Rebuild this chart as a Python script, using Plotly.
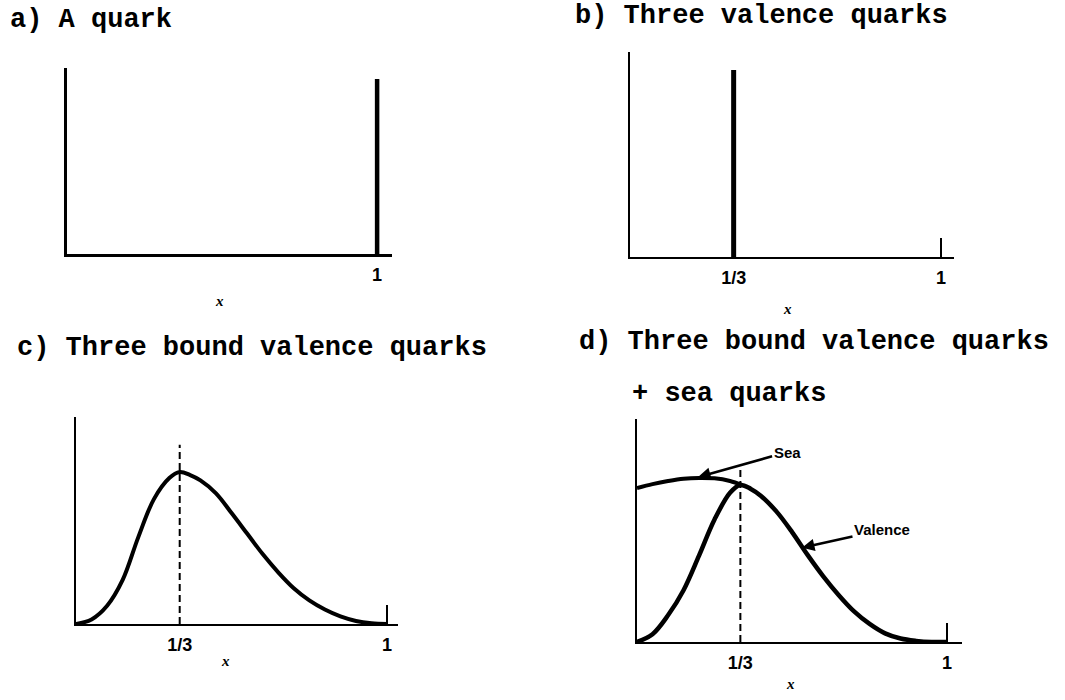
import plotly.graph_objects as go

# ---------------------------------------------------------------- data
# a) one free quark carries all the momentum: a spike at x = 1
quark_x = [1.0]
quark_h = [1.0]

# b) three free valence quarks: a spike at x = 1/3
free_valence_x = [1 / 3]
free_valence_h = [1.0]

# c) three bound valence quarks: a smeared peak around x = 1/3
bound_x = [0.0, 0.05, 0.10, 0.15, 0.20, 0.25, 0.30, 0.333, 0.367, 0.40, 0.45,
           0.50, 0.55, 0.60, 0.65, 0.70, 0.75, 0.80, 0.85, 0.90, 0.95, 1.0]
bound_h = [0.0, 0.03, 0.12, 0.29, 0.57, 0.82, 0.96, 1.0, 0.98, 0.945, 0.86,
           0.73, 0.595, 0.46, 0.34, 0.235, 0.155, 0.095, 0.05, 0.02, 0.005, 0.0]
bound_guide_top = 1.18

# d) bound valence quarks plus the sea
valence_x = [0.0, 0.05, 0.10, 0.15, 0.20, 0.25, 0.30, 0.333, 0.367, 0.40, 0.45,
             0.50, 0.55, 0.60, 0.65, 0.70, 0.75, 0.80, 0.85, 0.90, 0.95, 1.0]
valence_h = [0.0, 0.05, 0.17, 0.33, 0.55, 0.78, 0.95, 1.0, 0.975, 0.93, 0.83,
             0.70, 0.555, 0.42, 0.30, 0.195, 0.115, 0.055, 0.022, 0.007, 0.0, 0.0]
sea_x = [0.0, 0.05, 0.10, 0.15, 0.20, 0.25, 0.30, 0.338]
sea_h = [0.98, 1.005, 1.025, 1.04, 1.045, 1.042, 1.025, 1.0]
sea_guide_top = 1.11

# tick labels
ticks_a = [1.0]
labels_a = ["1"]
ticks_bcd = [1 / 3, 1.0]
labels_bcd = ["1/3", "1"]

titles = ["a) A quark", "b) Three valence quarks",
          "c) Three bound valence quarks", "d) Three bound valence quarks",
          "+ sea quarks"]
callouts = ["Sea", "Valence"]

# ---------------------------------------------------------------- layout
W, H = 1065, 700
INK = "black"


def xdom(x0, x1):
    return [x0 / W, x1 / W]


def ydom(top, bottom):
    return [1 - bottom / H, 1 - top / H]


# panel boxes in pixels: (left, right, top, bottom), plus axis ranges
panels = {
    "1": dict(box=(67, 392, 68, 254), xr=1.048, yr=1.063, lw=2.6),
    "2": dict(box=(630, 954, 52, 257), xr=1.042, yr=1.096, lw=2.2),
    "3": dict(box=(76, 398, 417, 624), xr=1.035, yr=1.362, lw=2.2),
    "4": dict(box=(637, 962, 419, 642), xr=1.048, yr=1.42, lw=2.2),
}

fig = go.Figure()


def seg(x0, h0):
    return [x0, x0], [0, h0]


# a) spike
for xv, hv in zip(quark_x, quark_h):
    sx, sy = seg(xv, hv)
    fig.add_trace(go.Scatter(x=sx, y=sy, mode="lines", xaxis="x", yaxis="y",
                             line=dict(color=INK, width=4.5)))
# b) spike
for xv, hv in zip(free_valence_x, free_valence_h):
    sx, sy = seg(xv, hv)
    fig.add_trace(go.Scatter(x=sx, y=sy, mode="lines", xaxis="x2", yaxis="y2",
                             line=dict(color=INK, width=5)))

# c) smeared distribution and guide at x = 1/3
fig.add_trace(go.Scatter(x=bound_x, y=bound_h, mode="lines", xaxis="x3", yaxis="y3",
                         line=dict(color=INK, width=4, shape="spline", smoothing=1.0)))
gx, gy = seg(ticks_bcd[0], bound_guide_top)
fig.add_trace(go.Scatter(x=gx, y=gy, mode="lines", xaxis="x3", yaxis="y3",
                         line=dict(color=INK, width=2, dash="7px,4px")))

# d) valence + sea
fig.add_trace(go.Scatter(x=valence_x, y=valence_h, mode="lines", xaxis="x4", yaxis="y4",
                         line=dict(color=INK, width=4.5, shape="spline", smoothing=1.0)))
fig.add_trace(go.Scatter(x=sea_x, y=sea_h, mode="lines", xaxis="x4", yaxis="y4",
                         line=dict(color=INK, width=4, shape="spline", smoothing=1.0)))
gx, gy = seg(ticks_bcd[0], sea_guide_top)
fig.add_trace(go.Scatter(x=gx, y=gy, mode="lines", xaxis="x4", yaxis="y4",
                         line=dict(color=INK, width=2, dash="7px,4px")))

tick_font = dict(family="Liberation Sans Narrow, Liberation Sans, Arial",
                 size=18, color=INK, weight="bold")

layout_axes = {}
for key, p in panels.items():
    l, r, t, b = p["box"]
    xname = "xaxis" if key == "1" else f"xaxis{key}"
    yname = "yaxis" if key == "1" else f"yaxis{key}"
    yref = "y" if key == "1" else f"y{key}"
    xref = "x" if key == "1" else f"x{key}"
    tv, tt = (ticks_a, labels_a) if key == "1" else (ticks_bcd, labels_bcd)
    xa = dict(domain=xdom(l, r), anchor=yref, range=[0, p["xr"]],
              showline=True, linecolor=INK, linewidth=p["lw"],
              showgrid=False, zeroline=False,
              tickmode="array", tickvals=tv, ticktext=tt,
              ticks="outside", ticklen=0, tickfont=tick_font,
              ticklabelstandoff=3, fixedrange=True)
    if key != "1":
        xa["minor"] = dict(tickmode="array", tickvals=[1.0], ticks="inside",
                           ticklen=19, tickwidth=2, tickcolor=INK)
    layout_axes[xname] = xa
    layout_axes[yname] = dict(domain=ydom(t, b), anchor=xref, range=[0, p["yr"]],
                              showline=True, linecolor=INK, linewidth=p["lw"],
                              showgrid=False, zeroline=False, ticks="",
                              showticklabels=False, fixedrange=True)

title_font = dict(family="Liberation Mono, DejaVu Sans Mono, monospace",
                  size=27, color=INK, weight="bold")
small_font = dict(family="Liberation Sans, Arial", size=15, color=INK, weight="bold")
xlab_font = dict(family="Liberation Serif, serif", size=15, color=INK,
                 weight="bold", style="italic")

annotations = []
# titles (left x, centre y in pixels)
for text, (px, py) in zip(titles, [(8, 20), (573, 16), (15, 348), (577, 342), (630, 394)]):
    annotations.append(dict(text=text, x=px / W, y=1 - py / H, xref="paper", yref="paper",
                            xanchor="left", yanchor="middle", showarrow=False,
                            font=title_font))
# axis variable labels
for px, py in [(219, 301), (787, 309), (225, 661), (790, 684)]:
    annotations.append(dict(text="x", x=px / W, y=1 - py / H, xref="paper", yref="paper",
                            xanchor="center", yanchor="middle", showarrow=False,
                            font=xlab_font))
# callouts in panel d
annotations.append(dict(text=callouts[0], x=0.197, y=1.05, xref="x4", yref="y4",
                        ax=89, ay=-25, showarrow=True, arrowhead=2, arrowsize=1,
                        arrowwidth=2.5, arrowcolor=INK, standoff=0, font=small_font))
annotations.append(dict(text=callouts[1], x=0.532, y=0.60, xref="x4", yref="y4",
                        ax=80, ay=-18, showarrow=True, arrowhead=2, arrowsize=1,
                        arrowwidth=2.5, arrowcolor=INK, standoff=0, font=small_font))

fig.update_layout(
    width=W, height=H,
    margin=dict(l=0, r=0, t=0, b=0),
    paper_bgcolor="white", plot_bgcolor="white",
    showlegend=False,
    annotations=annotations,
    **layout_axes,
)

fig.write_html("out.html", config={"displayModeBar": False})
